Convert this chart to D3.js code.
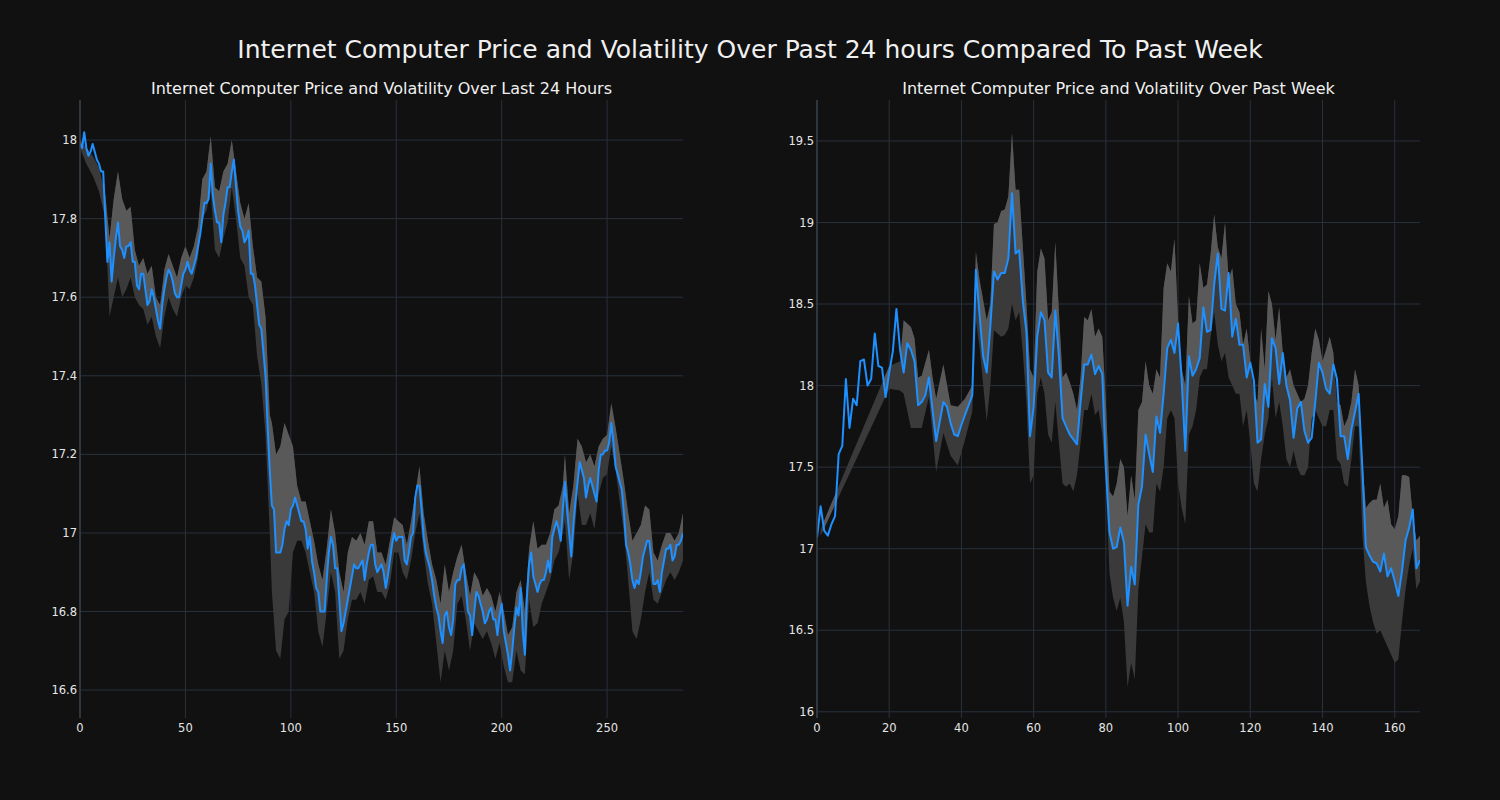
<!DOCTYPE html>
<html><head><meta charset="utf-8">
<script src="https://cdn.jsdelivr.net/npm/d3@7"></script>
<style>html,body{margin:0;background:#111111;} svg{display:block;font-family:"DejaVu Sans",sans-serif;}</style>
</head><body><svg id="c" width="1500" height="800"></svg>
<script>
// ---------- 24 hour data (5-minute steps) ----------
const dayPrice = [
17.99,17.98,18.02,17.98,17.96,17.97,17.99,17.97,17.95,17.94,
17.92,17.92,17.80,17.69,17.74,17.64,17.70,17.75,17.79,17.73,
17.72,17.70,17.73,17.73,17.74,17.69,17.69,17.63,17.62,17.66,
17.66,17.62,17.58,17.59,17.62,17.60,17.57,17.54,17.52,17.58,
17.62,17.65,17.67,17.66,17.64,17.61,17.60,17.60,17.63,17.66,
17.67,17.69,17.67,17.66,17.68,17.70,17.73,17.76,17.80,17.84,
17.84,17.85,17.94,17.86,17.82,17.79,17.79,17.74,17.81,17.84,
17.88,17.88,17.92,17.95,17.88,17.82,17.78,17.77,17.74,17.75,
17.77,17.66,17.66,17.63,17.58,17.53,17.52,17.46,17.40,17.27,
17.16,17.07,17.06,16.95,16.95,16.95,16.97,17.01,17.03,17.02,
17.06,17.07,17.09,17.07,17.05,17.03,17.03,17.01,16.96,16.99,
16.93,16.90,16.86,16.85,16.80,16.80,16.80,16.88,16.95,16.99,
16.97,16.91,16.91,16.83,16.75,16.77,16.80,16.83,16.86,16.89,
16.92,16.91,16.91,16.92,16.93,16.88,16.92,16.95,16.97,16.97,
16.92,16.90,16.91,16.92,16.90,16.86,16.89,16.93,16.97,17.00,
16.98,16.99,16.99,16.99,16.93,16.92,16.95,16.99,17.00,17.09,
17.12,17.12,17.06,16.99,16.95,16.93,16.91,16.88,16.84,16.81,
16.79,16.75,16.72,16.79,16.80,16.76,16.74,16.78,16.87,16.88,
16.88,16.91,16.92,16.86,16.80,16.79,16.74,16.80,16.85,16.84,
16.82,16.80,16.77,16.78,16.80,16.81,16.78,16.78,16.74,16.79,
16.82,16.75,16.72,16.69,16.65,16.70,16.76,16.81,16.79,16.86,
16.75,16.69,16.84,16.92,16.95,16.89,16.87,16.85,16.87,16.88,
16.88,16.90,16.93,16.90,16.99,17.01,17.03,17.01,16.98,17.06,
17.13,17.06,17.00,16.94,17.02,17.08,17.13,17.18,17.16,17.14,
17.09,17.12,17.14,17.12,17.10,17.08,17.16,17.20,17.20,17.21,
17.21,17.23,17.28,17.23,17.17,17.15,17.13,17.11,17.05,16.97,
16.95,16.92,16.88,16.86,16.88,16.87,16.90,16.94,16.96,16.98,
16.98,16.93,16.87,16.87,16.88,16.85,16.90,16.93,16.96,16.96,
16.97,16.93,16.94,16.97,16.97,16.98,17.00
];
const dayBandIdx = [0,3,6,9,12,14,16,18,20,22,24,26,28,30,32,34,36,38,40,42,44,46,48,50,52,54,56,58,60,62,64,66,68,70,72,74,76,78,80,82,84,86,88,90,91,93,95,97,99,101,103,105,107,109,111,113,115,117,119,121,123,125,127,129,131,133,135,137,139,141,143,145,147,149,151,153,155,157,159,161,163,165,167,169,171,173,175,177,179,181,183,185,187,189,191,193,195,197,199,201,203,205,207,209,211,213,215,217,219,221,223,225,227,229,230,232,234,236,238,240,242,244,246,248,250,252,254,256,258,260,262,264,266,268,270,272,274,276,278,280,282,284,286];
const dayBandHi = [18.00,17.98,17.96,17.93,17.86,17.75,17.85,17.92,17.85,17.82,17.83,17.72,17.68,17.70,17.66,17.68,17.60,17.58,17.67,17.71,17.68,17.65,17.70,17.73,17.70,17.73,17.78,17.90,17.92,18.01,17.88,17.87,17.92,17.94,18.00,17.92,17.84,17.80,17.84,17.73,17.65,17.64,17.55,17.30,17.28,17.20,17.22,17.28,17.25,17.22,17.12,17.08,17.08,17.03,16.98,16.92,16.88,16.96,17.06,17.00,16.90,16.85,16.95,16.99,16.98,17.00,16.97,17.03,17.03,16.95,16.95,16.92,16.98,17.04,17.03,17.02,16.97,17.03,17.10,17.17,17.05,16.98,16.92,16.88,16.82,16.92,16.85,16.90,16.94,16.97,16.90,16.84,16.90,16.88,16.84,16.86,16.84,16.80,16.85,16.80,16.74,16.76,16.85,16.88,16.80,16.96,17.03,16.96,16.97,16.97,17.00,17.06,17.07,17.12,17.20,17.05,17.12,17.24,17.22,17.18,17.20,17.17,17.22,17.24,17.25,17.33,17.27,17.20,17.13,17.05,16.98,17.00,17.02,17.07,17.06,16.95,16.93,16.97,17.00,17.00,16.98,17.00,17.05];
const dayBandLo = [17.98,17.94,17.91,17.87,17.80,17.55,17.60,17.65,17.60,17.62,17.65,17.60,17.58,17.57,17.53,17.55,17.50,17.47,17.55,17.60,17.57,17.55,17.60,17.63,17.62,17.65,17.70,17.80,17.82,17.87,17.72,17.70,17.75,17.79,17.88,17.80,17.70,17.68,17.60,17.58,17.45,17.38,17.25,17.00,16.85,16.70,16.68,16.78,16.80,16.95,16.98,16.98,16.95,16.90,16.85,16.75,16.71,16.80,16.90,16.85,16.68,16.70,16.78,16.83,16.83,16.85,16.82,16.88,16.89,16.85,16.85,16.83,16.87,16.95,16.95,16.90,16.88,16.93,17.00,17.05,16.95,16.87,16.82,16.72,16.62,16.70,16.65,16.70,16.82,16.84,16.78,16.70,16.77,16.75,16.73,16.75,16.72,16.68,16.72,16.66,16.62,16.62,16.70,16.65,16.64,16.83,16.76,16.77,16.82,16.85,16.88,16.93,16.95,17.00,17.03,16.88,16.95,17.10,17.02,17.02,17.05,17.01,17.10,17.14,17.15,17.22,17.16,17.08,17.00,16.88,16.75,16.73,16.78,16.85,16.90,16.83,16.82,16.85,16.88,16.90,16.88,16.90,16.93];
const dayXTicks = [0,50,100,150,200,250];
const dayYTicks = [16.6,16.8,17,17.2,17.4,17.6,17.8,18];

// ---------- past week data (hourly steps) ----------
const weekPrice = [
17.07,17.26,17.11,17.08,17.15,17.20,17.58,17.63,18.04,17.74,
17.92,17.88,18.15,18.16,18.00,18.04,18.32,18.12,18.11,17.93,
18.08,18.21,18.47,18.22,18.08,18.26,18.22,18.15,17.88,17.90,
17.94,18.05,17.85,17.66,17.78,17.90,17.87,17.77,17.70,17.69,
17.76,17.82,17.88,17.94,18.71,18.44,18.18,18.08,18.36,18.70,
18.65,18.69,18.69,18.78,19.18,18.81,18.83,18.52,18.33,17.69,
17.87,18.30,18.45,18.40,18.08,18.05,18.46,18.18,17.80,17.75,
17.70,17.67,17.64,17.90,18.13,18.13,18.19,18.07,18.12,18.07,
17.50,17.10,17.00,17.01,17.13,17.04,16.65,16.89,16.78,17.27,
17.38,17.70,17.58,17.47,17.81,17.71,17.95,18.23,18.28,18.20,
18.38,18.03,17.60,18.18,18.06,18.10,18.17,18.48,18.33,18.34,
18.62,18.81,18.47,18.46,18.69,18.30,18.41,18.25,18.25,18.05,
18.14,18.03,17.65,17.67,18.01,17.87,18.29,18.23,18.01,18.20,
18.00,17.91,17.68,17.86,17.90,17.72,17.65,17.68,17.90,18.14,
18.08,17.98,17.95,18.13,18.04,17.69,17.69,17.55,17.73,17.84,
17.95,17.51,17.01,16.96,16.92,16.91,16.86,16.97,16.83,16.88,
16.80,16.71,16.86,17.05,17.13,17.24,16.88,16.93
];
const weekBandIdx = [1,20,23,24,26,27,28,29,31,32,33,35,37,39,41,43,44,45,47,48,49,50,51,52,53,54,55,56,57,58,59,60,61,62,63,64,65,66,67,68,69,70,71,72,73,74,75,76,77,78,79,80,81,82,83,84,85,86,87,88,89,90,91,92,93,94,95,96,97,98,99,100,101,102,103,104,105,106,107,108,109,110,111,112,113,114,115,116,117,118,119,120,121,122,123,124,125,126,127,128,129,130,131,132,133,134,135,136,137,138,139,140,141,142,143,144,145,146,147,148,149,150,151,152,153,154,155,156,157,158,159,160,161,162,163,164,165,166,167];
const weekBandLo = [17.08,17.98,17.97,17.95,17.74,17.74,17.74,17.74,17.93,17.70,17.47,17.71,17.57,17.51,17.67,17.84,18.40,18.24,17.78,18.00,18.34,18.32,18.30,18.31,18.35,18.50,18.40,18.45,18.20,17.90,17.40,17.45,17.95,18.05,17.95,17.70,17.65,17.90,17.65,17.40,17.38,17.40,17.35,17.45,17.65,17.85,17.85,17.95,17.82,17.85,17.70,17.40,16.85,16.70,16.62,16.70,16.55,16.15,16.30,16.20,16.75,16.95,17.15,17.10,17.10,17.40,17.35,17.50,17.80,17.85,17.80,17.40,17.25,17.15,17.70,17.75,17.85,18.05,18.10,18.10,18.30,18.45,18.25,18.15,18.20,18.05,18.00,17.95,17.95,17.75,17.85,17.65,17.40,17.35,17.55,17.70,17.80,18.05,17.80,17.90,17.75,17.55,17.50,17.60,17.50,17.45,17.45,17.50,17.80,17.85,17.80,17.75,17.75,17.85,17.85,17.55,17.52,17.40,17.38,17.55,17.75,17.75,17.10,16.80,16.65,16.55,16.48,16.50,16.45,16.40,16.35,16.30,16.32,16.55,16.75,16.90,17.00,16.75,16.80];
const weekBandHi = [17.12,18.12,18.15,18.40,18.36,18.29,18.05,18.06,18.22,18.05,17.92,18.13,17.88,17.87,17.92,18.00,18.82,18.65,18.40,18.50,18.99,19.00,19.07,19.08,19.16,19.55,19.20,19.20,18.85,18.50,18.10,18.05,18.70,18.84,18.78,18.40,18.45,18.88,18.45,18.05,18.08,18.02,17.95,17.85,18.05,18.42,18.40,18.47,18.30,18.35,18.30,17.90,17.35,17.32,17.40,17.55,17.50,17.20,17.45,17.30,17.85,17.90,18.15,18.00,17.95,18.10,18.05,18.60,18.75,18.70,18.90,18.40,18.10,18.00,18.55,18.38,18.40,18.75,18.60,18.62,18.80,19.05,18.85,18.78,19.00,18.65,18.72,18.50,18.45,18.25,18.35,18.15,17.95,17.90,18.35,18.10,18.58,18.50,18.28,18.48,18.20,18.05,18.10,18.00,17.95,17.90,17.92,18.00,18.20,18.35,18.28,18.15,18.22,18.30,18.20,17.90,17.88,17.75,17.80,17.90,18.10,18.00,17.55,17.25,17.28,17.30,17.30,17.40,17.25,17.30,17.15,17.12,17.20,17.45,17.45,17.44,17.20,17.05,17.08];
const weekXTicks = [0,20,40,60,80,100,120,140,160];
const weekYTicks = [16,16.5,17,17.5,18,18.5,19,19.5];

const mainTitle = "Internet Computer Price and Volatility Over Past 24 hours Compared To Past Week";
const dayTitle = "Internet Computer Price and Volatility Over Last 24 Hours";
const weekTitle = "Internet Computer Price and Volatility Over Past Week";

const svg = d3.select("#c");
svg.append("rect").attr("width",1500).attr("height",800).attr("fill","#111111");
svg.append("text").attr("x",750).attr("y",58).attr("text-anchor","middle")
  .attr("fill","#f0f0f0").attr("font-size",25).text(mainTitle);

function panel(id, cfg){
  const {left,right,top,bottom} = cfg;
  const x = d3.scaleLinear().domain(cfg.xDomain).range([left,right]);
  const y = d3.scaleLinear().domain(cfg.yDomain).range([bottom,top]);
  const g = svg.append("g");
  const defs = svg.append("defs");
  defs.append("clipPath").attr("id",id+"rect").append("rect")
    .attr("x",left).attr("y",top).attr("width",right-left).attr("height",bottom-top);

  g.append("g").selectAll("line").data(cfg.yTicks).join("line")
    .attr("x1",left).attr("x2",right).attr("y1",d=>y(d)).attr("y2",d=>y(d))
    .attr("stroke","#29313c").attr("stroke-width",1);
  g.append("g").selectAll("line").data(cfg.xTicks).join("line")
    .attr("y1",top).attr("y2",bottom).attr("x1",d=>x(d)).attr("x2",d=>x(d))
    .attr("stroke","#29313c").attr("stroke-width",1);

  const band = cfg.bandIdx.map((d,i)=>({i:d, lo:cfg.bandLo[i], hi:cfg.bandHi[i]}));
  const bandArea = d3.area().x(d=>x(d.i)).y0(d=>y(d.lo)).y1(d=>y(d.hi));
  const bandD = bandArea(band);
  defs.append("clipPath").attr("id",id+"band").append("path").attr("d",bandD);

  const plot = g.append("g").attr("clip-path",`url(#${id}rect)`);
  plot.append("path").attr("d",bandD).attr("fill","#3a3a3a");
  const pts = cfg.price.map((v,i)=>({i, v}));
  const upper = d3.area().x(d=>x(d.i)).y0(d=>y(d.v)).y1(top-5);
  plot.append("g").attr("clip-path",`url(#${id}band)`)
    .append("path").attr("d",upper(pts)).attr("fill","#595959");
  plot.append("path").attr("d",d3.line().x(d=>x(d.i)).y(d=>y(d.v))(pts))
    .attr("fill","none").attr("stroke","#1e90ff").attr("stroke-width",2)
    .attr("stroke-linejoin","round");

  g.append("line").attr("x1",left).attr("x2",left).attr("y1",top).attr("y2",bottom)
    .attr("stroke","#3b4653").attr("stroke-width",1.2);

  g.append("g").selectAll("text").data(cfg.yTicks).join("text")
    .attr("x",left-3).attr("y",d=>y(d)).attr("dy","0.35em").attr("text-anchor","end")
    .attr("fill","#e6e6e6").attr("font-size",11.5).text(d=>String(d));
  g.append("g").selectAll("text").data(cfg.xTicks).join("text")
    .attr("x",d=>x(d)).attr("y",bottom+14).attr("text-anchor","middle")
    .attr("fill","#e6e6e6").attr("font-size",11.5).text(d=>String(d));

  g.append("text").attr("x",(left+right)/2).attr("y",top-6).attr("text-anchor","middle")
    .attr("fill","#f0f0f0").attr("font-size",16).text(cfg.title);
}

panel("d",{left:80,right:683,top:100,bottom:718,
  xDomain:[0,dayPrice.length-1], yDomain:[16.529,18.102],
  xTicks:dayXTicks, yTicks:dayYTicks, price:dayPrice,
  bandIdx:dayBandIdx, bandLo:dayBandLo, bandHi:dayBandHi, title:dayTitle});
panel("w",{left:817,right:1420,top:100,bottom:718,
  xDomain:[0,weekPrice.length-1], yDomain:[15.962,19.751],
  xTicks:weekXTicks, yTicks:weekYTicks, price:weekPrice,
  bandIdx:weekBandIdx, bandLo:weekBandLo, bandHi:weekBandHi, title:weekTitle});
</script></body></html>
